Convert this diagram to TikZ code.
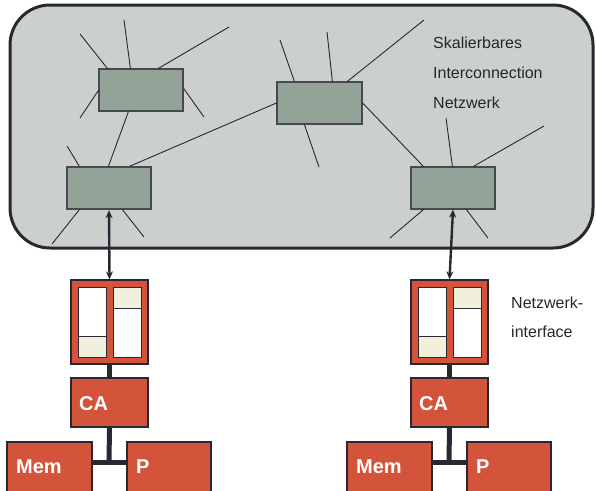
\documentclass[tikz,border=0pt]{standalone}
\usepackage{fontspec}
\setmainfont{Liberation Sans}
\usetikzlibrary{calc,arrows.meta}
\definecolor{cloud}{RGB}{203,208,205}
\definecolor{sw}{RGB}{147,163,152}
\definecolor{hwred}{RGB}{212,83,59}
\definecolor{cream}{RGB}{241,240,220}
\definecolor{ink}{RGB}{40,40,50}
\definecolor{txt}{RGB}{38,38,46}
\begin{document}
\begin{tikzpicture}[x=1pt,y=-1pt,
  switchbox/.style={draw=ink!85,line width=1.2pt,fill=sw,minimum width=84pt,minimum height=42pt,inner sep=0pt},
  stub/.style={draw=ink,line width=0.9pt},
  hwbox/.style={draw=ink,line width=1.2pt,fill=hwred,inner sep=0pt},
  slot/.style={draw=ink,line width=1pt,fill=white},
  buf/.style={draw=ink,line width=1pt,fill=cream},
  bus/.style={draw=ink,line width=5pt},
  link/.style={draw=ink,line width=2.4pt,{Stealth[length=8pt,width=7pt]}-{Stealth[length=8pt,width=7pt]}},
  lbl/.style={text=txt,font=\fontsize{16}{18}\selectfont,anchor=west,inner sep=0pt},
  hwlbl/.style={text=white,font=\fontsize{20}{22}\selectfont\bfseries,anchor=west,inner sep=0pt}
]
\useasboundingbox (0,0) rectangle (596,490);
% cloud
\draw[draw=ink,line width=3pt,fill=cloud,rounded corners=40pt] (10,5) rectangle (593,248);
% switches
\node[switchbox] (S1) at (141,90) {};
\node[switchbox] (S2) at (109,188) {};
\node[switchbox,minimum width=85pt] (S3) at (319.5,103) {};
\node[switchbox] (S4) at (453,188) {};
% inter-switch links
\draw[stub] ($(S1.south west)+(30,0)$) -- ($(S2.north west)+(42,0)$);
\draw[stub] ($(S2.north west)+(63,0)$) -- (S3.west);
\draw[stub] (S3.east) -- ($(S4.north west)+(13,0)$);
% stubs S1
\draw[stub] ($(S1.north west)+(9,0)$) -- (80,34);
\draw[stub] ($(S1.north west)+(32,0)$) -- (124,20);
\draw[stub] ($(S1.north west)+(60,0)$) -- (229,27);
\draw[stub] ($(S1.north west)+(0,22)$) -- (80,118);
\draw[stub] ($(S1.north east)+(0,20)$) -- (204,117);
% stubs S2
\draw[stub] ($(S2.north west)+(13,0)$) -- (67,146);
\draw[stub] ($(S2.south west)+(13,0)$) -- (52,244);
\draw[stub] ($(S2.south west)+(56,0)$) -- (144,237);
% stubs S3
\draw[stub] ($(S3.north west)+(18,0)$) -- (280,40);
\draw[stub] ($(S3.north west)+(56,0)$) -- (327,32);
\draw[stub] ($(S3.north west)+(71,0)$) -- (424,20);
\draw[stub] ($(S3.south west)+(28,0)$) -- (319,167);
% stubs S4
\draw[stub] ($(S4.north west)+(42,0)$) -- (446,118);
\draw[stub] ($(S4.north west)+(63,0)$) -- (544,126);
\draw[stub] ($(S4.south west)+(13,0)$) -- (390,238);
\draw[stub] ($(S4.south west)+(56,0)$) -- (488,238);
% labels
\node[lbl] (t1) at (433,43) {Skalierbares};
\node[lbl] (t2) at (433,73) {Interconnection};
\node[lbl] (t3) at (433,103) {Netzwerk};
\node[lbl] (t4) at (511,303) {Netzwerk-};
\node[lbl] (t5) at (511,332) {interface};
% nodes (two columns)
\foreach \dx/\k in {0/L,340/R}{
  \begin{scope}[xshift=\dx]
    \node[hwbox,minimum width=77pt,minimum height=84pt] (NI\k) at (109.5,322) {};
    \draw[slot] (78,287) rectangle (106,357);
    \draw[buf]  (78,336) rectangle (106,357);
    \draw[slot] (113,287) rectangle (141,357);
    \draw[buf]  (113,287) rectangle (141,308);
    \node[hwbox,minimum width=77pt,minimum height=49pt] (CA\k) at (109.5,402.5) {};
    \node[hwlbl] at (79,404) {CA};
    \node[hwbox,minimum width=85pt,minimum height=60pt] (Mem\k) at (49.5,472) {};
    \node[hwlbl] at (16,467) {Mem};
    \node[hwbox,minimum width=84pt,minimum height=60pt] (P\k) at (169,472) {};
    \node[hwlbl] at (136,467) {P};
    \coordinate (J\k) at (109,462);
  \end{scope}
}
\foreach \k in {L,R}{
  \draw[bus] (NI\k.south) -- (CA\k.north);
  \draw[bus] (CA\k.south) -- (J\k);
  \draw[bus] (Mem\k.east |- J\k) -- (P\k.west |- J\k);
}
\draw[link] ($(S2.south)+(0,0.6)$) -- (NIL.north);
\draw[link] (S4.south) -- (NIR.north);
\end{tikzpicture}
\end{document}
